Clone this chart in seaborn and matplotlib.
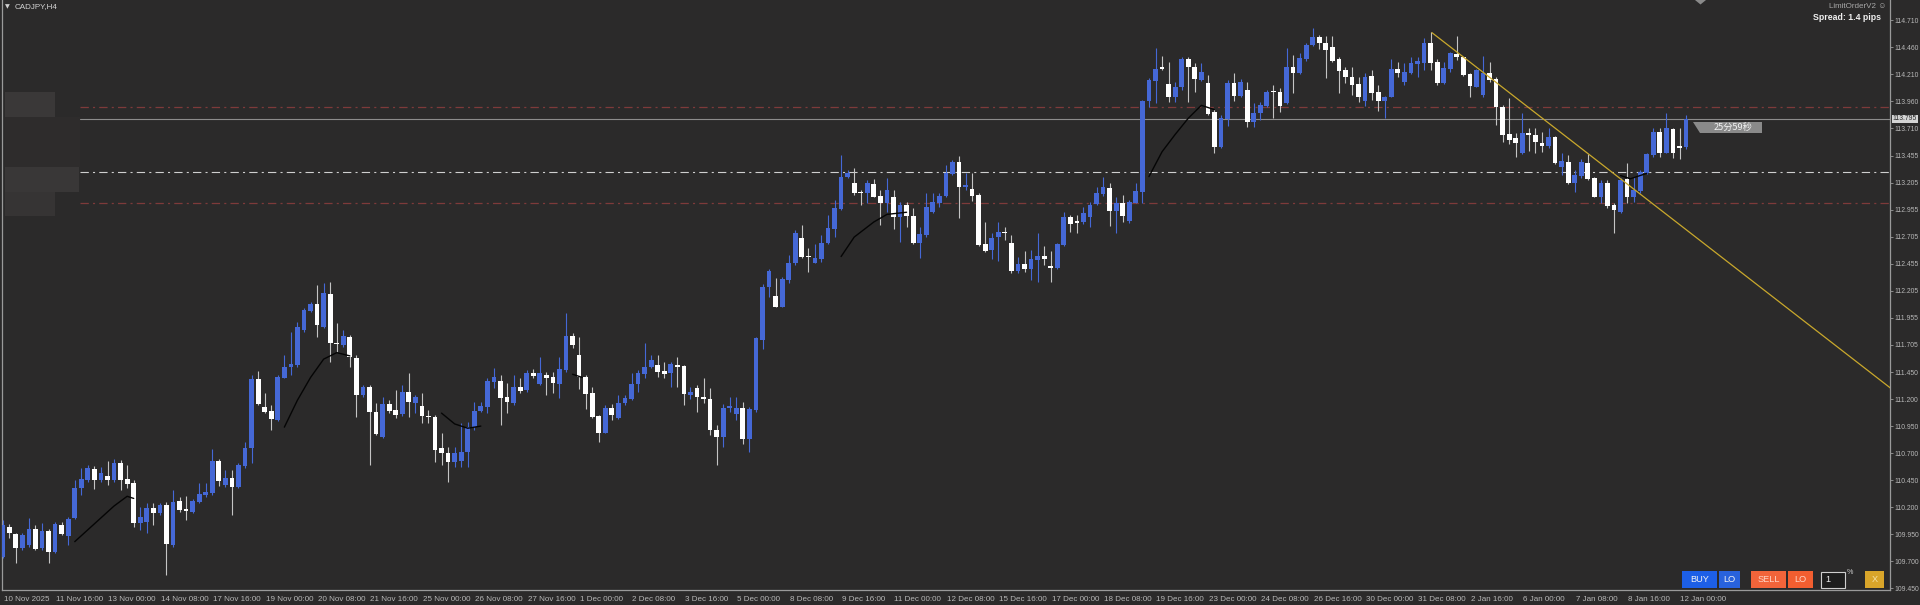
import numpy as np
import pandas as pd
import matplotlib
matplotlib.use("Agg")
import matplotlib.pyplot as plt
import matplotlib.transforms as mtransforms
from matplotlib.patches import Rectangle, Polygon
import seaborn as sns

# ---------------- data (CADJPY, H4) ----------------
SYMBOL = "CADJPY,H4"
OPEN = [
    109.740, 110.018, 109.950, 109.824, 109.849, 109.994, 109.818, 109.978, 109.787, 110.034,
    109.935, 110.095, 110.373, 110.450, 110.552, 110.450, 110.490, 110.450, 110.611, 110.457,
    110.420, 110.055, 110.065, 110.194, 110.142, 110.219, 109.849, 110.259, 110.185, 110.157,
    110.250, 110.311, 110.333, 110.626, 110.404, 110.466, 110.382, 110.580, 110.744, 111.382,
    111.129, 111.092, 111.006, 111.398, 111.494, 111.515, 111.839, 112.018, 112.077, 111.870,
    112.173, 111.722, 111.700, 111.771, 111.583, 111.237, 111.315, 111.083, 110.852, 111.154,
    111.098, 111.058, 111.268, 111.166, 111.136, 111.043, 111.037, 110.744, 110.697, 110.614,
    110.629, 110.713, 110.944, 111.093, 111.130, 111.361, 111.371, 111.216, 111.161, 111.315,
    111.284, 111.445, 111.340, 111.423, 111.407, 111.340, 111.469, 111.784, 111.608, 111.407,
    111.253, 111.043, 110.889, 111.114, 111.022, 111.161, 111.198, 111.340, 111.432, 111.500,
    111.516, 111.460, 111.438, 111.516, 111.506, 111.238, 111.300, 111.222, 111.201, 110.914,
    110.846, 111.121, 111.062, 111.121, 110.827, 111.099, 111.747, 112.241, 112.155, 112.056,
    112.303, 112.457, 112.695, 112.525, 112.463, 112.497, 112.642, 112.772, 112.957, 113.253,
    113.198, 113.121, 113.111, 113.192, 113.080, 113.013, 113.068, 112.889, 112.997, 112.895,
    112.642, 112.719, 112.935, 113.013, 113.080, 113.284, 113.398, 113.161, 113.142, 113.090,
    112.633, 112.580, 112.698, 112.750, 112.648, 112.389, 112.448, 112.401, 112.488, 112.525,
    112.432, 112.411, 112.627, 112.889, 112.849, 112.843, 112.889, 113.003, 113.096, 113.151,
    112.941, 113.019, 112.849, 113.019, 113.120, 113.963, 114.148, 114.278, 114.114, 113.994,
    114.093, 114.346, 114.272, 114.154, 114.124, 113.861, 113.531, 113.790, 114.124, 114.006,
    114.062, 113.769, 113.846, 113.917, 114.056, 114.046, 113.945, 114.278, 114.216, 114.346,
    114.479, 114.556, 114.494, 114.457, 114.346, 114.247, 114.179, 114.117, 113.963, 114.191,
    114.046, 113.963, 114.000, 114.253, 114.139, 114.216, 114.303, 114.315, 114.494, 114.324,
    114.124, 114.253, 114.395, 114.364, 114.210, 114.093, 114.016, 114.216, 114.161, 113.901,
    113.651, 113.614, 113.475, 113.667, 113.645, 113.574, 113.543, 113.630, 113.346, 113.398,
    113.204, 113.266, 113.383, 113.244, 113.074, 113.204, 112.997, 112.935, 113.235, 113.074,
    113.130, 113.296, 113.460, 113.676, 113.482, 113.698, 113.543, 113.531,
]
HIGH = [
    110.080, 110.043, 109.957, 109.957, 110.095, 110.034, 110.049, 109.994, 110.065, 110.065,
    110.111, 110.450, 110.558, 110.589, 110.580, 110.574, 110.629, 110.642, 110.636, 110.589,
    110.450, 110.204, 110.234, 110.234, 110.234, 110.250, 110.358, 110.296, 110.302, 110.271,
    110.420, 110.420, 110.734, 110.642, 110.543, 110.543, 110.605, 110.805, 111.423, 111.460,
    111.259, 111.145, 111.423, 111.608, 111.824, 111.916, 112.040, 112.102, 112.256, 112.271,
    112.287, 111.907, 111.839, 111.793, 111.608, 111.330, 111.330, 111.160, 111.222, 111.191,
    111.284, 111.330, 111.438, 111.237, 111.253, 111.098, 111.052, 110.889, 110.759, 110.759,
    110.981, 110.990, 111.176, 111.176, 111.392, 111.485, 111.423, 111.346, 111.423, 111.392,
    111.469, 111.476, 111.587, 111.454, 111.454, 111.593, 111.998, 111.815, 111.778, 111.423,
    111.315, 111.052, 111.145, 111.155, 111.238, 111.238, 111.445, 111.469, 111.716, 111.608,
    111.608, 111.547, 111.547, 111.593, 111.516, 111.315, 111.330, 111.392, 111.300, 110.960,
    111.151, 111.216, 111.216, 111.176, 111.130, 111.778, 112.263, 112.401, 112.318, 112.334,
    112.534, 112.766, 112.812, 112.596, 112.636, 112.719, 112.905, 113.043, 113.460, 113.321,
    113.337, 113.136, 113.229, 113.235, 113.136, 113.244, 113.136, 113.028, 113.028, 112.966,
    112.790, 113.105, 113.105, 113.105, 113.368, 113.414, 113.451, 113.290, 113.290, 113.111,
    112.843, 112.735, 112.843, 112.790, 112.719, 112.512, 112.574, 112.580, 112.741, 112.617,
    112.574, 112.648, 112.935, 112.904, 112.904, 112.982, 113.028, 113.167, 113.259, 113.204,
    113.074, 113.090, 113.043, 113.198, 113.969, 114.170, 114.448, 114.377, 114.324, 114.139,
    114.370, 114.364, 114.309, 114.309, 114.201, 113.883, 113.830, 114.154, 114.216, 114.161,
    114.139, 113.938, 113.954, 114.062, 114.108, 114.077, 114.448, 114.386, 114.401, 114.494,
    114.633, 114.571, 114.562, 114.562, 114.370, 114.278, 114.278, 114.185, 114.216, 114.247,
    114.108, 114.006, 114.346, 114.324, 114.309, 114.370, 114.370, 114.540, 114.602, 114.346,
    114.324, 114.417, 114.562, 114.370, 114.222, 114.253, 114.377, 114.324, 114.185, 113.923,
    113.985, 113.661, 113.846, 113.707, 113.707, 113.676, 113.707, 113.636, 113.475, 113.460,
    113.321, 113.420, 113.469, 113.259, 113.229, 113.229, 113.019, 113.244, 113.383, 113.259,
    113.321, 113.482, 113.707, 113.707, 113.846, 113.707, 113.707, 113.830,
]
LOW = [
    109.725, 109.910, 109.679, 109.802, 109.833, 109.802, 109.802, 109.679, 109.771, 109.941,
    109.849, 110.086, 110.311, 110.435, 110.364, 110.435, 110.404, 110.435, 110.358, 110.373,
    110.018, 109.987, 109.957, 110.034, 110.126, 109.571, 109.833, 110.157, 110.080, 110.142,
    110.240, 110.296, 110.311, 110.395, 110.389, 110.126, 110.373, 110.558, 110.605, 111.145,
    111.068, 110.913, 111.000, 111.392, 111.423, 111.500, 111.824, 112.009, 111.778, 111.861,
    111.546, 111.639, 111.685, 111.500, 111.037, 111.222, 110.589, 110.867, 110.836, 111.068,
    111.021, 111.046, 111.037, 111.068, 110.975, 110.975, 110.620, 110.589, 110.435, 110.574,
    110.574, 110.574, 110.913, 111.084, 111.068, 111.300, 110.960, 111.068, 111.145, 111.253,
    111.269, 111.392, 111.330, 111.238, 111.253, 111.207, 111.454, 111.670, 111.290, 111.105,
    111.022, 110.806, 110.883, 111.006, 111.012, 111.145, 111.192, 111.269, 111.392, 111.485,
    111.401, 111.392, 111.315, 111.315, 111.145, 111.198, 111.084, 111.161, 110.868, 110.590,
    110.759, 111.084, 111.006, 110.784, 110.713, 111.084, 111.661, 112.148, 112.050, 112.050,
    112.272, 112.442, 112.503, 112.380, 112.457, 112.472, 112.636, 112.704, 112.951, 113.244,
    113.090, 112.997, 113.013, 113.068, 112.812, 112.935, 112.772, 112.658, 112.790, 112.636,
    112.503, 112.704, 112.926, 112.982, 113.074, 113.275, 112.874, 113.136, 113.037, 112.617,
    112.565, 112.494, 112.482, 112.673, 112.370, 112.364, 112.380, 112.303, 112.287, 112.441,
    112.287, 112.401, 112.617, 112.750, 112.735, 112.821, 112.796, 112.997, 113.080, 112.803,
    112.735, 112.843, 112.833, 113.012, 113.012, 113.901, 113.945, 114.247, 113.954, 113.954,
    114.062, 113.954, 114.046, 114.148, 113.830, 113.482, 113.522, 113.729, 113.963, 114.000,
    113.722, 113.716, 113.784, 113.901, 113.799, 113.861, 113.932, 114.037, 114.210, 114.333,
    114.469, 114.438, 114.170, 114.324, 114.031, 114.124, 114.016, 113.954, 113.914, 113.969,
    113.870, 113.799, 113.994, 114.185, 114.108, 114.210, 114.185, 114.247, 114.247, 114.108,
    114.117, 114.232, 114.340, 114.191, 113.994, 114.086, 113.994, 114.139, 113.738, 113.583,
    113.562, 113.438, 113.469, 113.500, 113.482, 113.491, 113.522, 113.377, 113.275, 113.191,
    113.120, 113.244, 113.229, 113.068, 113.012, 112.966, 112.741, 112.920, 113.019, 113.028,
    113.105, 113.284, 113.444, 113.438, 113.475, 113.429, 113.420, 113.512,
]
CLOSE = [
    110.034, 109.957, 109.824, 109.941, 109.994, 109.811, 109.978, 109.787, 110.040, 109.947,
    110.086, 110.379, 110.457, 110.558, 110.450, 110.512, 110.450, 110.611, 110.450, 110.410,
    110.049, 110.111, 110.194, 110.142, 110.219, 109.855, 110.250, 110.173, 110.166, 110.259,
    110.318, 110.342, 110.626, 110.444, 110.466, 110.382, 110.589, 110.750, 111.382, 111.154,
    111.083, 111.012, 111.407, 111.500, 111.524, 111.870, 112.024, 112.077, 111.886, 112.179,
    111.716, 111.707, 111.784, 111.592, 111.237, 111.315, 111.077, 110.876, 111.154, 111.089,
    111.052, 111.268, 111.176, 111.222, 111.046, 111.031, 110.728, 110.697, 110.620, 110.697,
    110.713, 110.944, 111.089, 111.139, 111.371, 111.401, 111.207, 111.170, 111.315, 111.278,
    111.445, 111.414, 111.438, 111.398, 111.346, 111.476, 111.784, 111.701, 111.407, 111.247,
    111.031, 110.889, 111.121, 111.053, 111.161, 111.207, 111.340, 111.438, 111.500, 111.562,
    111.454, 111.432, 111.522, 111.500, 111.247, 111.269, 111.216, 111.198, 110.914, 110.846,
    111.121, 111.130, 111.121, 110.830, 111.108, 111.763, 112.241, 112.389, 112.056, 112.309,
    112.463, 112.741, 112.519, 112.513, 112.503, 112.648, 112.781, 112.966, 113.259, 113.297,
    113.105, 113.111, 113.204, 113.074, 113.013, 113.136, 112.889, 112.997, 112.895, 112.642,
    112.729, 112.982, 113.028, 113.080, 113.290, 113.398, 113.161, 113.182, 113.083, 112.627,
    112.574, 112.688, 112.750, 112.735, 112.389, 112.448, 112.401, 112.494, 112.525, 112.494,
    112.411, 112.636, 112.889, 112.821, 112.827, 112.920, 112.997, 113.105, 113.161, 112.945,
    113.019, 112.895, 113.028, 113.130, 113.963, 114.154, 114.253, 114.253, 113.994, 114.093,
    114.346, 114.278, 114.161, 114.232, 113.837, 113.537, 113.799, 114.124, 114.006, 114.139,
    113.769, 113.852, 113.923, 114.046, 114.046, 113.914, 114.278, 114.216, 114.355, 114.479,
    114.556, 114.494, 114.432, 114.333, 114.241, 114.185, 114.108, 114.000, 114.185, 114.037,
    113.963, 114.000, 114.253, 114.222, 114.232, 114.309, 114.330, 114.500, 114.309, 114.130,
    114.262, 114.407, 114.364, 114.201, 114.099, 114.247, 114.216, 114.154, 113.901, 113.645,
    113.599, 113.568, 113.667, 113.645, 113.583, 113.543, 113.630, 113.383, 113.407, 113.198,
    113.275, 113.398, 113.235, 113.074, 113.204, 112.988, 112.951, 113.229, 113.074, 113.136,
    113.306, 113.469, 113.676, 113.482, 113.707, 113.475, 113.528, 113.795,
]

# indicator line fragments (bar index, price)
IND_SEG = [0, 0, 0, 0, 0, 0, 1, 1, 1, 1, 1, 1, 2, 2, 2, 2, 3, 3,
           4, 4, 4, 4, 4, 5, 5, 5, 5, 5, 5, 6, 6, 6]
IND_X = [11, 13, 15, 17, 19, 20, 43, 45, 47, 49, 51, 53, 67, 69, 71, 73, 87, 88.5,
         128, 130, 133, 135, 138, 175, 177, 179, 181, 183, 185, 247, 248.5, 251]
IND_Y = [109.88, 109.99, 110.10, 110.21, 110.30, 110.28,
         110.94, 111.19, 111.40, 111.57, 111.63, 111.60,
         111.07, 110.97, 110.93, 110.95, 111.43, 111.40,
         112.52, 112.70, 112.84, 112.91, 112.93,
         113.26, 113.49, 113.65, 113.80, 113.92, 113.88,
         113.27, 113.24, 113.29]

# horizontal levels
LEVEL_RED_HIGH = 113.904
LEVEL_BID = 113.795
LEVEL_WHITE = 113.303
LEVEL_RED_LOW = 113.016

# trend line anchors (bar index, price)
TREND_X = [218.2, 288.0]
TREND_Y = [114.593, 111.312]

YTICKS = [114.710, 114.460, 114.210, 113.960, 113.710, 113.455, 113.205, 112.955,
          112.705, 112.455, 112.205, 111.955, 111.705, 111.450, 111.200, 110.950,
          110.700, 110.450, 110.200, 109.950, 109.700, 109.450]
XTICK_IDX = list(range(0, 257, 8))
XTICK_LABELS = ["10 Nov 2025", "11 Nov 16:00", "13 Nov 00:00", "14 Nov 08:00", "17 Nov 16:00",
                "19 Nov 00:00", "20 Nov 08:00", "21 Nov 16:00", "25 Nov 00:00", "26 Nov 08:00",
                "27 Nov 16:00", "1 Dec 00:00", "2 Dec 08:00", "3 Dec 16:00", "5 Dec 00:00",
                "8 Dec 08:00", "9 Dec 16:00", "11 Dec 00:00", "12 Dec 08:00", "15 Dec 16:00",
                "17 Dec 00:00", "18 Dec 08:00", "19 Dec 16:00", "23 Dec 00:00", "24 Dec 08:00",
                "26 Dec 16:00", "30 Dec 00:00", "31 Dec 08:00", "2 Jan 16:00", "6 Jan 00:00",
                "7 Jan 08:00", "8 Jan 16:00", "12 Jan 00:00"]
COUNTDOWN = "25分59秒"
SPREAD_TEXT = "Spread: 1.4 pips"
EA_TEXT = "LimitOrderV2 ☺"

# ---------------- style ----------------
sns.set_style("dark")
plt.rcParams['font.family'] = ['Liberation Sans', 'DejaVu Sans']
plt.rcParams['lines.scale_dashes'] = False

W, H = 1920, 605
BG = '#2b2a2a'
BLUE = '#4568d6'
AXC = '#9a9a9a'
TXT = '#b8b8b8'

def fx(x):
    return x / W

def fy(y):
    return 1 - y / H

fig = plt.figure(figsize=(W / 100, H / 100), dpi=100)
fig.patch.set_facecolor(BG)

PL, PR, PT, PB = 1.5, 1890.0, 0.0, 590.0
ax = fig.add_axes([fx(PL), fy(PB), (PR - PL) / W, (PB - PT) / H])
ax.set_facecolor(BG)
ax.grid(False)

BAR0_PX, BAR_PX = 2.7, 6.55
ax.set_xlim((PL - BAR0_PX) / BAR_PX, (PR - BAR0_PX) / BAR_PX)
PX_PER_UNIT = 108.0
ax.set_ylim(114.710 - (PB - 20) / PX_PER_UNIT, 114.710 + 20 / PX_PER_UNIT)

# ---------------- horizontal levels ----------------
xmin_frac = (80 - PL) / (PR - PL)
ax.axhline(LEVEL_RED_HIGH, xmin=xmin_frac, color='#7e3a3a', lw=0.9, dashes=(6, 3, 1.5, 3), zorder=1)
ax.axhline(LEVEL_BID, xmin=xmin_frac, color='#8c8c8c', lw=0.8, zorder=1)
ax.axhline(LEVEL_WHITE, xmin=xmin_frac, color='#cfcfcf', lw=0.8, dashes=(6, 3, 1.5, 3), zorder=1)
ax.axhline(LEVEL_RED_LOW, xmin=xmin_frac, color='#7e3a3a', lw=0.9, dashes=(6, 3, 1.5, 3), zorder=1)

# ---------------- candles ----------------
o = np.array(OPEN); h = np.array(HIGH); l = np.array(LOW); c = np.array(CLOSE)
idx = np.arange(len(c))
up = c > o
body_col = np.where(up, BLUE, '#ffffff')
wick_col = np.where(up, BLUE, '#c4c4c4')
ax.vlines(idx, l, h, colors=wick_col, lw=0.8, zorder=3)
ax.bar(idx, np.maximum(np.abs(c - o), 0.011), bottom=np.minimum(o, c), width=0.72,
       color=body_col, linewidth=0, zorder=4)

# ---------------- indicator fragments ----------------
ind = pd.DataFrame({'x': IND_X, 'y': IND_Y, 'seg': IND_SEG})
sns.lineplot(data=ind, x='x', y='y', units='seg', estimator=None, sort=False,
             color='#050505', lw=1.0, ax=ax, zorder=5, legend=False)

# ---------------- trend line ----------------
slope = (TREND_Y[1] - TREND_Y[0]) / (TREND_X[1] - TREND_X[0])
x_end = TREND_X[1] + 5
ax.plot([TREND_X[0], x_end], [TREND_Y[0], TREND_Y[0] + slope * (x_end - TREND_X[0])],
        color='#c9a82c', lw=0.9, zorder=6)

# ---------------- axes ----------------
ax.yaxis.tick_right()
ax.set_yticks(YTICKS)
ax.set_yticklabels([f"{v:.3f}" for v in YTICKS])
ax.set_xticks(XTICK_IDX)
ax.set_xticklabels(XTICK_LABELS, ha='left')
ax.tick_params(axis='x', direction='out', length=3, width=0.6, colors=AXC,
               labelcolor=TXT, labelsize=5.8, pad=1.2)
ax.tick_params(axis='y', direction='out', length=2.5, width=0.6, colors=AXC,
               labelcolor=TXT, labelsize=4.9, pad=0.8)
ax.set_xlabel(''); ax.set_ylabel('')
offset = mtransforms.ScaledTranslation(1 / 100, 0, fig.dpi_scale_trans)
for lab in ax.get_xticklabels():
    lab.set_transform(lab.get_transform() + offset)
ax.spines['top'].set_visible(False)
for s in ['left', 'right', 'bottom']:
    ax.spines[s].set_visible(True)
    ax.spines[s].set_color(AXC)
    ax.spines[s].set_linewidth(0.9)

# bid price label on the axis
blend = mtransforms.blended_transform_factory(ax.transAxes, ax.transData)
ax.text(1.0, LEVEL_BID, f"{LEVEL_BID:.3f}",
        transform=blend + mtransforms.ScaledTranslation(2.5 / 100, 0, fig.dpi_scale_trans),
        ha='left', va='center', fontsize=4.9, color='#2b2b2b', clip_on=False, zorder=10,
        bbox=dict(boxstyle='square,pad=0.12', fc='#d4d4d4', ec='none'))

# ---------------- overlays (figure pixel coords) ----------------
def rect(x0, y0, x1, y1, **kw):
    fig.patches.append(Rectangle((fx(x0), fy(y1)), fx(x1) - fx(x0), fy(y0) - fy(y1),
                                 transform=fig.transFigure, **kw))

def poly(pts, **kw):
    fig.patches.append(Polygon([(fx(x), fy(y)) for x, y in pts], closed=True,
                               transform=fig.transFigure, **kw))

# blurred labels on the left
rect(5, 117, 80, 167, fc='#2e2c2c', ec='none')
rect(5, 92, 55, 117, fc='#3a3838', ec='none')
rect(5, 167, 79, 192, fc='#393737', ec='none')
rect(5, 192, 55, 216, fc='#363434', ec='none')

# symbol title
fig.text(fx(5), fy(6.5), "▼", fontsize=4.5, color='#d0d0d0', va='center', ha='left',
         family=['DejaVu Sans'])
fig.text(fx(15), fy(6.5), SYMBOL, fontsize=5.8, color='#d4d4d4', va='center', ha='left')

# top-right texts
fig.text(fx(1886), fy(7), EA_TEXT, fontsize=5.8, color='#a8a8a8', va='center', ha='right',
         family=['Liberation Sans', 'DejaVu Sans'])
fig.text(fx(1881), fy(18), SPREAD_TEXT, fontsize=6.3, color='#f0f0f0', va='center', ha='right',
         fontweight='bold')
poly([(1695, 0), (1706, 0), (1700.5, 4.5)], fc='#8a8a8a', ec='none')

# countdown tag
poly([(1693, 122), (1762, 122), (1762, 133), (1700, 133)], fc='#8a8a8a', ec='none')
fig.text(fx(1733), fy(127.5), COUNTDOWN, fontsize=6.6, color='#f2f2f2', va='center', ha='center',
         family=['Noto Sans CJK JP', 'DejaVu Sans'])

# trade buttons
BY0, BY1 = 571, 588
rect(1682, BY0, 1717, BY1, fc='#1d5fe6', ec='none')
fig.text(fx(1699.5), fy(579.5), "BUY", fontsize=6.6, color='#f4f4f4', va='center', ha='center')
rect(1719, BY0, 1740, BY1, fc='#2862dc', ec='none')
fig.text(fx(1729.5), fy(579.5), "LO", fontsize=6.6, color='#f4f4f4', va='center', ha='center')
rect(1751, BY0, 1786, BY1, fc='#f2643a', ec='none')
fig.text(fx(1768.5), fy(579.5), "SELL", fontsize=6.6, color='#ffd6c8', va='center', ha='center')
rect(1788, BY0, 1813, BY1, fc='#f25e30', ec='none')
fig.text(fx(1800.5), fy(579.5), "LO", fontsize=6.6, color='#ffd6c8', va='center', ha='center')
rect(1821, BY0 + 1, 1845, BY1, fc='#1e1e1e', ec='#cfcfcf', lw=0.8)
fig.text(fx(1825), fy(580), "1", fontsize=6.6, color='#f0f0f0', va='center', ha='left')
fig.text(fx(1847), fy(573), "%", fontsize=5.2, color='#d0d0d0', va='center', ha='left')
rect(1865, BY0, 1884, BY1, fc='#d9a52a', ec='none')
fig.text(fx(1874.5), fy(579.5), "X", fontsize=6.6, color='#f6e3a8', va='center', ha='center')

fig.savefig("out.png", dpi=100, facecolor=BG)
